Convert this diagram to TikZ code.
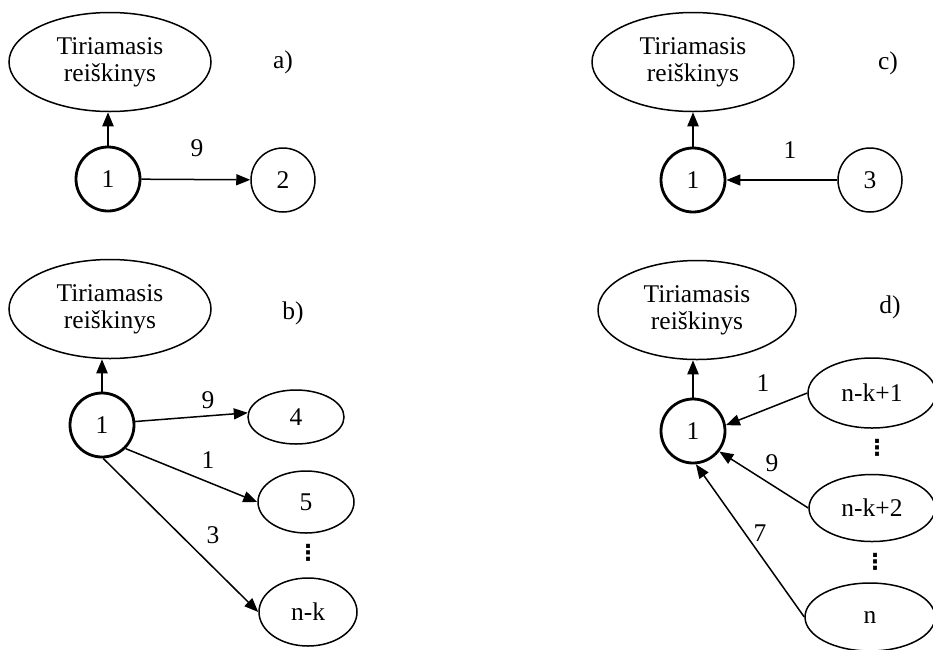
\documentclass[tikz,border=0pt]{standalone}
\usepackage{fontspec}
\setmainfont{Liberation Serif}
\newfontfamily\dotsfont{DejaVu Sans}
\usetikzlibrary{shapes.geometric,arrows.meta}
\begin{document}
\begin{tikzpicture}[x=1pt,y=-1pt,
  every node/.style={font=\fontsize{25.5}{27}\selectfont},
  topic/.style={ellipse,draw,line width=1.5pt,minimum width=202pt,minimum height=99pt,inner sep=0pt,align=center},
  core/.style={circle,draw,line width=2.8pt,minimum size=64pt,inner sep=0pt},
  leaf/.style={circle,draw,line width=1.5pt,minimum size=64pt,inner sep=0pt},
  oval/.style={ellipse,draw,line width=1.5pt,inner sep=0pt},
  tip/.style={-{Triangle[length=14pt,width=11pt]}},
  link/.style={tip,line width=1.5pt},
  rise/.style={tip,line width=2.2pt},
  tag/.style={inner sep=0pt},
  vdts/.style={inner sep=0pt,font=\dotsfont\bfseries\fontsize{22}{22}\selectfont}]

\useasboundingbox (0,0) rectangle (933,649);

% ---- a) ----
\node[topic] (ae) at (110,62) {Tiriamasis\\reiškinys};
\node[tag] (al) at (283,62) {a)};
\node[core] (a1) at (108,179) {1};
\node[leaf] (a2) at (283,180) {2};
\draw[rise] (a1.north) -- (a1.north |- ae.south);
\draw[link] (a1) -- (a2);
\node[tag] (aw) at (197,148) {9};

% ---- b) ----
\node[topic] (be) at (110,309) {Tiriamasis\\reiškinys};
\node[tag] (bl) at (293,313) {b)};
\node[core] (b1) at (102,425) {1};
\node[oval,minimum width=96pt,minimum height=54pt] (b4) at (296,417) {4};
\node[oval,minimum width=96pt,minimum height=62pt] (b5) at (306,502) {5};
\node[oval,minimum width=98pt,minimum height=68pt] (bk) at (308,612) {n-k};
\node[vdts] (bd) at (308,553) {⋮};
\draw[rise] (b1.north) -- (b1.north |- be.south);
\draw[link] (b1.6) -- (b4.175);
\draw[link] (b1.-45) -- (b5.west);
\draw[link] (b1.-88) -- (bk.west);
\node[tag] (bw1) at (208,400) {9};
\node[tag] (bw2) at (208,460) {1};
\node[tag] (bw3) at (213,535) {3};

% ---- c) ----
\node[topic] (ce) at (693,62) {Tiriamasis\\reiškinys};
\node[tag] (cl) at (888,63) {c)};
\node[core] (c1) at (693,180) {1};
\node[leaf] (c3) at (870,180) {3};
\draw[rise] (c1.north) -- (c1.north |- ce.south);
\draw[link] (c3) -- (c1);
\node[tag] (cw) at (790,150) {1};

% ---- d) ----
\node[topic,minimum width=198pt] (de) at (697,310) {Tiriamasis\\reiškinys};
\node[tag] (dl) at (890,307) {d)};
\node[core] (d1) at (693,431) {1};
\node[oval,minimum width=128pt,minimum height=70pt] (dk1) at (872,393) {n-k+1};
\node[oval,minimum width=126pt,minimum height=67pt] (dk2) at (872,508) {n-k+2};
\node[oval,minimum width=130pt,minimum height=68pt] (dn) at (870,617) {n};
\node[vdts] (dd1) at (877,448) {⋮};
\node[vdts] (dd2) at (875,562) {⋮};
\draw[rise] (d1.north) -- (d1.north |- de.south);
\draw[link] (dk1.west) -- (d1.10);
\draw[link] (dk2.west) -- (d1.-38);
\draw[link] (dn.west) -- (d1.-85);
\node[tag] (dw1) at (763,383) {1};
\node[tag] (dw2) at (772,463) {9};
\node[tag] (dw3) at (760,533) {7};
\end{tikzpicture}
\end{document}
